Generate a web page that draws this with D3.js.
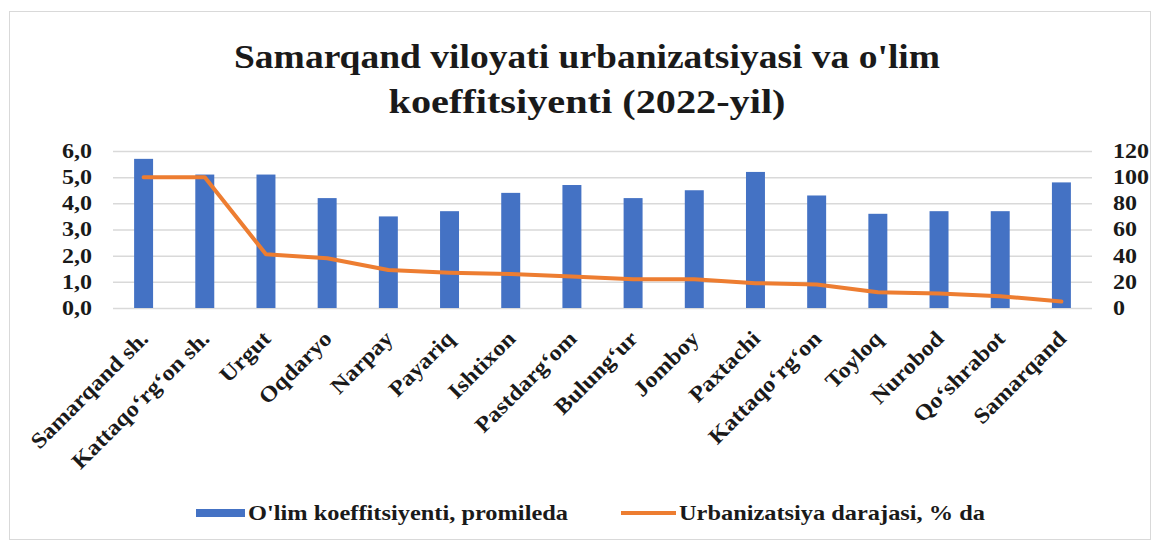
<!DOCTYPE html>
<meta charset="utf-8">
<script src="https://d3js.org/d3.v7.min.js"></script>
<style>
  body { margin: 0; background: #fff; }
  text { font-family: "Liberation Serif", "Times New Roman", serif; font-weight: bold; fill: #1a1a1a; }
</style>
<div id="chart"></div>
<script>
// tumanlar (districts)
var districts = ["Samarqand sh.", "Kattaqo\u2018rg\u2018on sh.", "Urgut", "Oqdaryo", "Narpay", "Payariq",
  "Ishtixon", "Pastdarg\u2018om", "Bulung\u2018ur", "Jomboy", "Paxtachi", "Kattaqo\u2018rg\u2018on",
  "Toyloq", "Nurobod", "Qo\u2018shrabot", "Samarqand"];

// o'lim koeffitsiyenti, promileda
var deathRate = [5.7, 5.1, 5.1, 4.2, 3.5, 3.7, 4.4, 4.7, 4.2, 4.5, 5.2, 4.3, 3.6, 3.7, 3.7, 4.8];

// urbanizatsiya darajasi, % da
var urbanRate = [100, 100, 41, 38, 29, 27, 26, 24, 22, 22, 19, 18, 12, 11, 9, 5];

var leftTicks = [0, 1, 2, 3, 4, 5, 6];
var rightTicks = [0, 20, 40, 60, 80, 100, 120];

var titleLines = ["Samarqand  viloyati urbanizatsiyasi va o'lim", "koeffitsiyenti (2022-yil)"];
var seriesNames = ["O'lim koeffitsiyenti, promileda", "Urbanizatsiya darajasi, % da"];

var W = 1153, H = 545;
var plot = {left: 113, right: 1092, top: 151, bottom: 308};

// the picture is a bit wide, so text is stretched sideways
function widen(sel, k) {
  sel.each(function() {
    var len = this.getComputedTextLength();
    d3.select(this).attr("textLength", len * k).attr("lengthAdjust", "spacingAndGlyphs");
  });
}

var svg = d3.select("#chart").append("svg")
  .attr("width", W)
  .attr("height", H);

svg.append("rect")
  .attr("x", 9.5).attr("y", 11.5)
  .attr("width", W - 12).attr("height", 528)
  .attr("fill", "#fff")
  .attr("stroke", "#d9d9d9");

// scales
var x = d3.scaleBand()
  .domain(districts)
  .range([plot.left, plot.right])
  .paddingInner(0.69)
  .paddingOuter(0.345);

var yL = d3.scaleLinear().domain([0, 6]).range([plot.bottom, plot.top]);
var yR = d3.scaleLinear().domain([0, 120]).range([plot.bottom, plot.top]);

// title
svg.append("g").selectAll("text")
  .data(titleLines)
  .enter().append("text")
  .attr("x", 587)
  .attr("y", function(d, i) { return 68 + i * 45; })
  .attr("text-anchor", "middle")
  .style("font-size", "34px")
  .attr("textLength", function(d, i) { return i == 0 ? 706 : 397; })
  .attr("lengthAdjust", "spacingAndGlyphs")
  .text(function(d) { return d; });

// gridlines
svg.append("g")
  .attr("transform", "translate(" + plot.left + ",0)")
  .call(d3.axisLeft(yL).tickValues(leftTicks).tickSize(-(plot.right - plot.left)).tickFormat(""))
  .call(function(g) {
    g.select(".domain").remove();
    g.selectAll("line").attr("stroke", "#d9d9d9").attr("stroke-width", 1.5);
  });

// left axis labels
svg.append("g")
  .attr("transform", "translate(" + (plot.left - 21) + ",0)")
  .call(d3.axisLeft(yL).tickValues(leftTicks).tickSize(0)
    .tickFormat(function(d) { return d3.format(".1f")(d).replace(".", ","); }))
  .call(function(g) {
    g.select(".domain").remove();
    g.selectAll("text")
      .attr("x", 0)
      .style("font-size", "20px")
      .style("font-family", "Liberation Serif")
      .style("font-weight", "bold")
      .attr("fill", "#1a1a1a")
      .call(widen, 1.2);
  });

// right axis labels
svg.append("g")
  .attr("transform", "translate(" + (plot.right + 21) + ",0)")
  .call(d3.axisRight(yR).tickValues(rightTicks).tickSize(0))
  .call(function(g) {
    g.select(".domain").remove();
    g.selectAll("text")
      .attr("x", 0)
      .style("font-size", "20px")
      .style("font-family", "Liberation Serif")
      .style("font-weight", "bold")
      .attr("fill", "#1a1a1a")
      .call(widen, 1.2);
  });

// bars
svg.append("g").selectAll("rect")
  .data(deathRate)
  .enter().append("rect")
  .attr("x", function(d, i) { return x(districts[i]); })
  .attr("y", function(d) { return yL(d); })
  .attr("width", x.bandwidth())
  .attr("height", function(d) { return yL(0) - yL(d); })
  .attr("fill", "#4472c4");

// line
var line = d3.line()
  .x(function(d, i) { return x(districts[i]) + x.bandwidth() / 2; })
  .y(function(d) { return yR(d); });

svg.append("path")
  .datum(urbanRate)
  .attr("d", line)
  .attr("fill", "none")
  .attr("stroke", "#ed7d31")
  .attr("stroke-width", 4)
  .attr("stroke-linejoin", "round")
  .attr("stroke-linecap", "round");

// x labels, rotated
svg.append("g").selectAll("text")
  .data(districts)
  .enter().append("text")
  .attr("transform", function(d) {
    return "translate(" + (x(d) + x.bandwidth() / 2 + 6) + "," + (plot.bottom + 32) + ") rotate(-45)";
  })
  .attr("text-anchor", "end")
  .style("font-size", "22px")
  .text(function(d) { return d; })
  .call(widen, 1.1);

// legend
var legend = svg.append("g");
legend.append("rect")
  .attr("x", 196).attr("y", 509)
  .attr("width", 49).attr("height", 8)
  .attr("fill", "#4472c4");
legend.append("text")
  .attr("x", 248).attr("y", 520)
  .style("font-size", "21px")
  .attr("textLength", 320)
  .attr("lengthAdjust", "spacingAndGlyphs")
  .text(seriesNames[0]);
legend.append("line")
  .attr("x1", 621).attr("x2", 676)
  .attr("y1", 513).attr("y2", 513)
  .attr("stroke", "#ed7d31")
  .attr("stroke-width", 4);
legend.append("text")
  .attr("x", 679).attr("y", 520)
  .style("font-size", "21px")
  .attr("textLength", 306)
  .attr("lengthAdjust", "spacingAndGlyphs")
  .text(seriesNames[1]);
</script>
